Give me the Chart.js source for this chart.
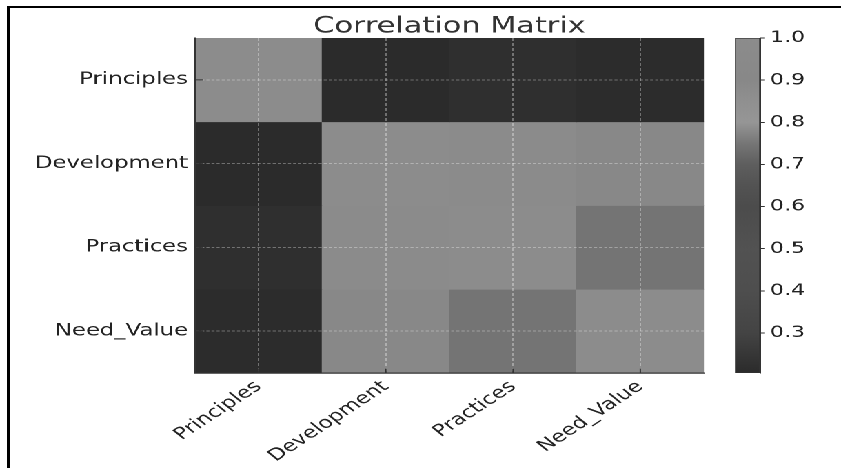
<!DOCTYPE html>
<html>
<head>
<meta charset="utf-8">
<script src="https://cdn.jsdelivr.net/npm/chart.js@4.4.1/dist/chart.umd.min.js"></script>
<style>
  html, body { margin: 0; padding: 0; background: #fff; }
  body { width: 841px; height: 468px; overflow: hidden; position: relative; }
  #frame { position: absolute; left: 7px; top: 6px; right: -10px; bottom: -10px;
           border-left: 3px solid #000; border-top: 2.5px solid #000; }
  /* the figure is drawn on a 610px-wide stage and stretched to the page width */
  #wrap { position: absolute; left: 0; top: 0; width: 610px; height: 468px;
          transform: scaleX(1.37869); transform-origin: 0 0; }
  #wrap canvas { position: absolute; left: 0; top: 0; }
</style>
</head>
<body>
<div id="frame"></div>
<div id="wrap">
  <canvas id="heat" width="610" height="468"></canvas>
  <canvas id="cbar" width="610" height="468"></canvas>
</div>
<script>
// Variables of the correlation matrix (rows and columns share the same order)
const variables = ['Principles', 'Development', 'Practices', 'Need_Value'];

// Pairwise correlations, one row per variable
const rowPrinciples  = [1.00, 0.205, 0.22, 0.21];
const rowDevelopment = [0.205, 1.00, 0.88, 0.90];
const rowPractices   = [0.22, 0.88, 1.00, 0.745];
const rowNeedValue   = [0.21, 0.90, 0.745, 1.00];

// Colour bar tick values
const colorbarTicks = [0.3, 0.4, 0.5, 0.6, 0.7, 0.8, 0.9, 1.0];

// Grey colour map: value -> grey level
const cmapValues = [0.205, 0.3, 0.4, 0.5, 0.6, 0.65, 0.7, 0.75, 0.8, 0.85, 0.9, 1.0];
const cmapGrey   = [43,    68,  78,  82,  76,  83,   94,  118,  150, 144,  136, 140];

const matrix = [rowPrinciples, rowDevelopment, rowPractices, rowNeedValue];
const vmin = Math.min(...matrix.flat());
const vmax = Math.max(...matrix.flat());

function greyCss(level) {
  const g = Math.round(level);
  return `rgb(${g},${g},${g})`;
}
function greyFor(v) {
  if (v <= cmapValues[0]) return greyCss(cmapGrey[0]);
  for (let i = 1; i < cmapValues.length; i++) {
    if (v <= cmapValues[i]) {
      const t = (v - cmapValues[i - 1]) / (cmapValues[i] - cmapValues[i - 1]);
      return greyCss(cmapGrey[i - 1] + t * (cmapGrey[i] - cmapGrey[i - 1]));
    }
  }
  return greyCss(cmapGrey[cmapGrey.length - 1]);
}

Chart.defaults.font.family = "'DejaVu Sans', sans-serif";
Chart.defaults.color = '#222';

const FONT_TICK = { family: "'DejaVu Sans', sans-serif", size: 16.5 };
const GRID_COLOR = 'rgba(255,255,255,0.33)';

// Short tick marks pointing into the plot area
const innerTicks = {
  id: 'innerTicks',
  afterDraw(chart) {
    const { ctx, chartArea, scales } = chart;
    ctx.save();
    ctx.strokeStyle = '#333';
    ctx.lineWidth = 1;
    ctx.beginPath();
    scales.y.ticks.forEach((t, i) => {
      const y = scales.y.getPixelForTick(i);
      ctx.moveTo(chartArea.left, y);
      ctx.lineTo(chartArea.left + 5.8, y);
    });
    scales.x.ticks.forEach((t, i) => {
      const x = scales.x.getPixelForTick(i);
      ctx.moveTo(x, chartArea.bottom);
      ctx.lineTo(x, chartArea.bottom - 4.5);
    });
    ctx.stroke();
    ctx.restore();
  }
};

// Heat map: one floating-bar dataset per matrix row
new Chart(document.getElementById('heat'), {
  type: 'bar',
  data: {
    labels: variables,
    datasets: matrix.map((row, r) => ({
      label: variables[r],
      data: row.map(() => [r, r + 1]),
      backgroundColor: row.map(greyFor),
      borderWidth: 0,
      barPercentage: 1,
      categoryPercentage: 1,
      grouped: false
    }))
  },
  options: {
    responsive: false,
    devicePixelRatio: 2,
    animation: false,
    layout: { padding: { left: 0, right: 99.4, top: 0, bottom: 0 } },
    plugins: {
      legend: { display: false },
      tooltip: { enabled: false },
      title: {
        display: true,
        text: 'Correlation Matrix',
        fullSize: false,
        color: '#333',
        font: { family: "'DejaVu Sans', sans-serif", size: 22, weight: 'normal', lineHeight: 1.0 },
        padding: { top: 16, bottom: 0 }
      }
    },
    scales: {
      x: {
        type: 'category',
        offset: true,
        afterFit: (s) => { s.height = 95; },
        grid: { offset: false, color: GRID_COLOR, lineWidth: 1, drawTicks: false, z: 1 },
        border: { display: true, color: '#333', width: 1.3, dash: [3, 2], z: 1 },
        ticks: {
          font: FONT_TICK, color: '#222', padding: 4,
          minRotation: 42, maxRotation: 42, autoSkip: false
        }
      },
      y: {
        type: 'linear',
        min: 0,
        max: variables.length,
        reverse: true,
        afterBuildTicks: (s) => { s.ticks = variables.map((_, i) => ({ value: i + 0.5 })); },
        afterFit: (s) => { s.width = 141.4; },
        grid: { color: GRID_COLOR, lineWidth: 1, drawTicks: false, z: 1 },
        border: { display: true, color: '#333', width: 1.3, dash: [2.2, 1.5], z: 1 },
        ticks: {
          font: FONT_TICK, color: '#222', padding: 5, autoSkip: false,
          callback: (v) => variables[Math.floor(v)]
        }
      }
    }
  },
  plugins: [innerTicks]
});

// Colour bar: a single floating bar filled with the colour map
new Chart(document.getElementById('cbar'), {
  type: 'bar',
  data: {
    labels: [''],
    datasets: [{
      data: [[vmin, vmax]],
      backgroundColor: (c) => {
        const chart = c.chart;
        const ys = chart.scales.y;
        if (!chart.chartArea || !ys) return greyFor((vmin + vmax) / 2);
        const g = chart.ctx.createLinearGradient(0, ys.getPixelForValue(vmin), 0, ys.getPixelForValue(vmax));
        cmapValues.forEach((v) => {
          const pos = Math.min(1, Math.max(0, (v - vmin) / (vmax - vmin)));
          g.addColorStop(pos, greyFor(v));
        });
        return g;
      },
      borderColor: '#333',
      borderWidth: 1,
      borderSkipped: false,
      barPercentage: 1,
      categoryPercentage: 1
    }]
  },
  options: {
    responsive: false,
    devicePixelRatio: 2,
    animation: false,
    layout: { padding: { left: 533.1, right: 0, top: 38, bottom: 95 } },
    plugins: { legend: { display: false }, tooltip: { enabled: false } },
    scales: {
      x: { display: false, offset: true },
      y: {
        position: 'right',
        min: vmin,
        max: vmax,
        afterBuildTicks: (s) => { s.ticks = colorbarTicks.map((v) => ({ value: v })); },
        afterFit: (s) => { s.width = 58.7; },
        grid: { drawOnChartArea: false, drawTicks: true, tickLength: 3.6, color: '#333', tickColor: '#333' },
        border: { display: true, color: '#333', width: 1 },
        ticks: {
          font: { family: "'DejaVu Sans', sans-serif", size: 16 }, color: '#222', padding: 3.6,
          callback: (v) => v.toFixed(1)
        }
      }
    }
  }
});
</script>
</body>
</html>
